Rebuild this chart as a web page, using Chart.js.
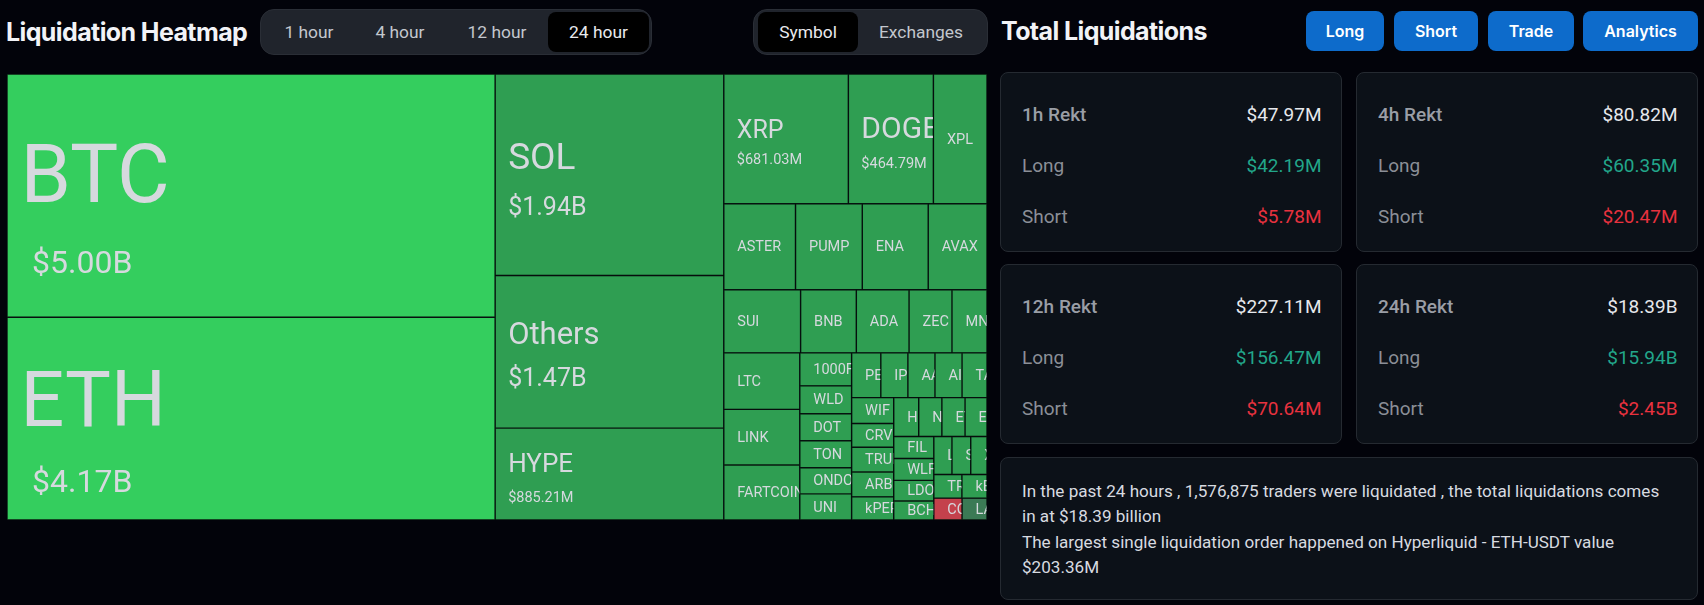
<!DOCTYPE html>
<html><head><meta charset="utf-8">
<script src="https://cdn.jsdelivr.net/npm/chart.js@4"></script>
<style>
html,body{margin:0;padding:0;width:1704px;height:605px;overflow:hidden;background:#02030a;font-family:Roboto,sans-serif}
.a{position:absolute;box-sizing:border-box}
.title{font-family:Inter,sans-serif;font-weight:700;font-size:25px;color:#f2f3f7;line-height:30px;white-space:nowrap;letter-spacing:-.6px}
.pill{background:#20242c;border:1px solid #2a2e36;border-radius:14px}
.tab{display:flex;align-items:center;justify-content:center;font-size:17.4px;color:#c3c7ce;height:40px;top:12px;border-radius:8px}
.tab.on{background:#000;color:#e9eaee}
.btn{background:#0d6bcb;color:#fff;border-radius:8px;top:11px;height:40px;display:flex;align-items:center;justify-content:center;font-family:Inter,sans-serif;font-weight:600;font-size:16px}
.card{background:#0c1118;border:1px solid #252a31;border-radius:8px}
.row{display:flex;justify-content:space-between;align-items:center;height:24px;font-size:19px;white-space:nowrap}
.lbl{color:#8b8f97}.head .lbl{color:#9a9ea6;font-weight:500}.val{color:#e6e8ec}.g{color:#22a68a}.r{color:#e8323f}
.sum{font-size:17.1px;line-height:25.3px;color:#d8dbe0;white-space:nowrap}
</style></head><body>
<div class="a title" style="left:6px;top:17px">Liquidation Heatmap</div>
<div class="a pill" style="left:260px;top:9px;width:392px;height:46px"></div>
<div class="a tab" style="left:269px;width:80px">1 hour</div>
<div class="a tab" style="left:360px;width:80px">4 hour</div>
<div class="a tab" style="left:452px;width:90px">12 hour</div>
<div class="a tab on" style="left:548px;width:101px">24 hour</div>
<div class="a pill" style="left:753px;top:9px;width:235px;height:46px"></div>
<div class="a tab on" style="left:758px;width:100px">Symbol</div>
<div class="a tab" style="left:860px;width:122px">Exchanges</div>
<div class="a title" style="left:1001px;top:16px">Total Liquidations</div>
<div class="a btn" style="left:1306px;width:78px">Long</div>
<div class="a btn" style="left:1394px;width:84px">Short</div>
<div class="a btn" style="left:1488px;width:86px">Trade</div>
<div class="a btn" style="left:1583px;width:115px">Analytics</div>
<div id="cards"></div>
<div class="a card sum" style="left:1000px;top:457px;width:698px;height:143px;padding:21px 21px 0 21px">In the past 24 hours , 1,576,875 traders were liquidated , the total liquidations comes<br>in at $18.39 billion<br>The largest single liquidation order happened on Hyperliquid - ETH-USDT value<br>$203.36M</div>
<canvas id="map" class="a" style="left:7px;top:74px" width="980" height="446"></canvas>
<script>
const symbols=['BTC','ETH','SOL','Others','HYPE','XRP','DOGE','XPL','ASTER','PUMP','ENA','AVAX','SUI','BNB','ADA','ZEC','MNT','LTC','LINK','FARTCOIN','1000FLOKI','WLD','DOT','TON','ONDO','UNI','PENGU','IP','AAVE','AI16Z','TAO','WIF','CRV','TRUMP','ARB','kPEPE','H','NEAR','ETC','ENS','FIL','WLFI','LDO','BCH','LINEA','SEI','XLM','TRX','kBONK','COAI','LAB'];
const amountsM=[5000,4170,1940,1470,885.21,681.03,464.79,293,260,242,239,213,204,148,140,114,93,181,178,176,72,61,59,59,57,57,55,51,51,51,47,46,42,44,44,41,41,38,38,36,37,37,35,32,29,30,26,28,25,26,23];
const amountLabels={BTC:'$5.00B',ETH:'$4.17B',SOL:'$1.94B',Others:'$1.47B',HYPE:'$885.21M',XRP:'$681.03M',DOGE:'$464.79M'};
const brightSymbols=['BTC','ETH'];
const lossSymbols=['COAI'];
const mutedSymbols=['LAB'];
// nesting of the map: 'h' splits across, 'v' splits down, sized by the amounts inside
const nesting=['h',['v','BTC','ETH'],['v','SOL','Others','HYPE'],['v',
 ['h','XRP','DOGE','XPL'],['h','ASTER','PUMP','ENA','AVAX'],['h','SUI','BNB','ADA','ZEC','MNT'],
 ['h',['v','LTC','LINK','FARTCOIN'],['v','1000FLOKI','WLD','DOT','TON','ONDO','UNI'],
  ['v',['h','PENGU','IP','AAVE','AI16Z','TAO'],
   ['h',['v','WIF','CRV','TRUMP','ARB','kPEPE'],
    ['v',['h','H','NEAR','ETC','ENS'],
     ['h',['v','FIL','WLFI','LDO','BCH'],
      ['v',['h','LINEA','SEI','XLM'],['h','TRX','kBONK'],['h','COAI','LAB']]]]]]]]];
const cards=[['1h Rekt','$47.97M','$42.19M','$5.78M'],['4h Rekt','$80.82M','$60.35M','$20.47M'],['12h Rekt','$227.11M','$156.47M','$70.64M'],['24h Rekt','$18.39B','$15.94B','$2.45B']];

const cardBoxes=[[1000,72],[1356,72],[1000,264],[1356,264]];
document.getElementById('cards').innerHTML=cards.map((c,i)=>{
 const [l,t]=cardBoxes[i];
 const row=(top,cls,a,b,vc)=>`<div class="a row ${cls}" style="left:21px;right:19.5px;top:${top}px"><span class="lbl">${a}</span><span class="${vc}">${b}</span></div>`;
 return `<div class="a card" style="left:${l}px;top:${t}px;width:342px;height:180px">${row(29,'head',c[0],c[1],'val')}${row(80,'',"Long",c[2],'g')}${row(131,'',"Short",c[3],'r')}</div>`;
}).join('');

const amountOf=n=>amountsM[symbols.indexOf(n)];
const total=amountsM.reduce((a,b)=>a+b,0);
const sumOf=t=>typeof t==='string'?amountOf(t):t.slice(1).reduce((s,k)=>s+sumOf(k),0);
const cells=[];
(function place(t,x0,x1,y0,y1){
 if(typeof t==='string'){cells.push({name:t,x:[x0,x1],y:[y0,y1]});return;}
 const s=sumOf(t);let p=t[0]==='h'?x0:y0;
 t.slice(1).forEach(k=>{const f=sumOf(k)/s;
  if(t[0]==='h'){const w=(x1-x0)*f;place(k,p,p+w,y0,y1);p+=w;}
  else{const h=(y1-y0)*f;place(k,x0,x1,p,p+h);p+=h;}});
})(nesting,0,total,0,1);

class TreemapController extends Chart.BarController{
 updateElements(rects,start,count,mode){
  const xs=this._cachedMeta.xScale,ys=this._cachedMeta.yScale;
  for(let i=start;i<start+count;i++){
   const c=this.getDataset().data[i];
   const l=xs.getPixelForValue(c.x0),r=xs.getPixelForValue(c.x1);
   const t=ys.getPixelForValue(c.y[0]),b=ys.getPixelForValue(c.y[1]);
   this.updateElement(rects[i],i,{horizontal:false,x:(l+r)/2,width:r-l,y:t,base:b,height:b-t,borderSkipped:{},inflateAmount:0,enableBorderRadius:false,options:this.resolveDataElementOptions(i,mode)},mode);
  }
 }
}
TreemapController.id='treemap';
Chart.register(TreemapController);

const bigLabels={
 BTC:{size:81,sub:32,pad:13.5,subPad:25,dy:6,subDy:77},
 ETH:{size:77,sub:32,pad:13.5,subPad:25,dy:7.5,subDy:73.5},
 SOL:{size:37,sub:25,pad:13,subPad:13,dy:-6,subDy:40},
 Others:{size:31,sub:25,pad:13,subPad:13,dy:-8,subDy:34},
 HYPE:{size:26,sub:14.5,pad:13,subPad:13,dy:-2,subDy:28},
 XRP:{size:25,sub:14.5,pad:13,subPad:13,dy:-.5,subDy:25.5},
 DOGE:{size:30,sub:14.5,pad:13,subPad:13,dy:-.5,subDy:29.5}
};
const labelPlugin={id:'cellLabels',afterDatasetsDraw(chart){
 const ctx=chart.ctx,meta=chart.getDatasetMeta(0);
 meta.data.forEach((el,i)=>{
  const c=cells[i],{x,y,base,width}=el.getProps(['x','y','base','width']);
  const left=x-width/2,h=base-y,mid=y+h/2,st=bigLabels[c.name];
  ctx.save();ctx.beginPath();ctx.rect(left,y,width-.5,h);ctx.clip();
  ctx.fillStyle='#d6d9de';ctx.textAlign='left';
  if(st){
   ctx.textBaseline='alphabetic';
   ctx.font=`400 ${st.size}px Roboto`;ctx.fillText(c.name,left+st.pad,mid+st.dy);
   ctx.font=`400 ${st.sub}px Roboto`;ctx.fillText(amountLabels[c.name],left+st.subPad,mid+st.subDy);
  }else{
   ctx.textBaseline='middle';ctx.font='400 14.5px Roboto';ctx.fillText(c.name,left+13.5,mid+1);
  }
  ctx.restore();
 });
}};
new Chart(document.getElementById('map'),{
 type:'treemap',
 data:{labels:cells.map(c=>c.name),datasets:[{label:'Liquidations',
  data:cells.map(c=>({x:(c.x[0]+c.x[1])/2,x0:c.x[0],x1:c.x[1],y:c.y})),
  backgroundColor:cells.map(c=>brightSymbols.includes(c.name)?'#34ce5e':lossSymbols.includes(c.name)?'#c4414c':mutedSymbols.includes(c.name)?'#3b7a55':'#2f9e52'),
  borderColor:'#0c1f13',borderWidth:.7,borderSkipped:false}]},
 plugins:[labelPlugin],
 options:{responsive:false,animation:false,devicePixelRatio:1,layout:{padding:0},
  plugins:{legend:{display:false},tooltip:{enabled:false}},
  scales:{x:{type:'linear',display:false,offset:false,min:0,max:total,grid:{display:false}},
          y:{type:'linear',display:false,reverse:true,min:0,max:1,grid:{display:false}}}}
});
</script></body></html>
